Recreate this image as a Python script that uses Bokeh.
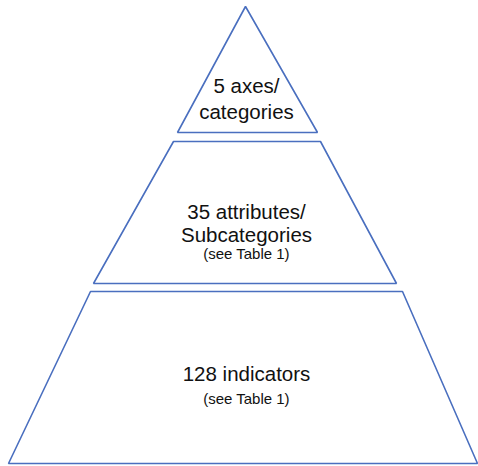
from bokeh.plotting import figure
from bokeh.models import Range1d
from bokeh.core.properties import value
from bokeh.embed import file_html
from bokeh.resources import INLINE

# Tier geometry (in reference pixel units): top y, bottom y, top left/right x, bottom left/right x
tier_top_y = [6, 141, 291]
tier_bot_y = [132, 283, 463]
tier_top_l = [245, 173, 90]
tier_top_r = [245, 320, 402]
tier_bot_l = [177, 93, 8]
tier_bot_r = [317, 396, 477]

# Labels per tier
label_text = ["5 axes/", "categories",
              "35 attributes/", "Subcategories", "(see Table 1)",
              "128 indicators", "(see Table 1)"]
label_y = [85, 111, 211, 234, 253, 373, 398]
label_size = ["20.5px", "20.5px", "20.5px", "20.5px", "15px", "20.5px", "15px"]
center_x = 246

p = figure(width=478, height=466, output_backend="svg", toolbar_location=None,
           x_range=Range1d(0, 478), y_range=Range1d(466, 0), min_border=0)
p.axis.visible = False
p.grid.visible = False
p.outline_line_color = None
p.background_fill_color = "white"

xs, ys = [], []
for i in range(len(tier_top_y)):
    xs.append([tier_top_l[i], tier_top_r[i], tier_bot_r[i], tier_bot_l[i]])
    ys.append([tier_top_y[i], tier_top_y[i], tier_bot_y[i], tier_bot_y[i]])

p.patches(xs, ys, fill_color="white", line_color="#4a6fbf", line_width=1.6)

p.text(x=[center_x] * len(label_text), y=label_y, text=label_text,
       text_font=value("Liberation Sans"), text_font_size=label_size,
       text_align="center", text_baseline="alphabetic", text_color="#111111")

open("out.html", "w").write(file_html(p, INLINE))
